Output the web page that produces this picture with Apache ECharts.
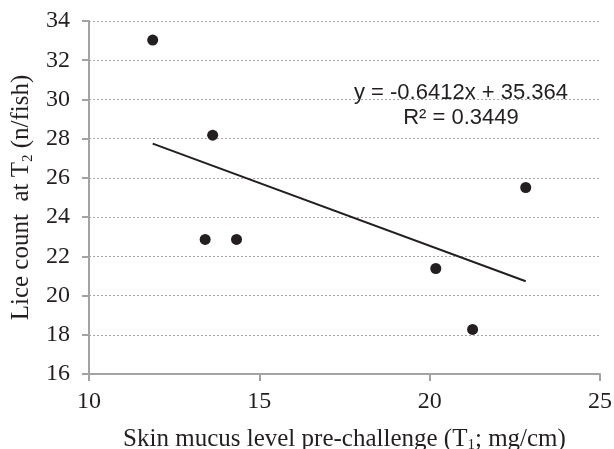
<!DOCTYPE html>
<html>
<head>
<meta charset="utf-8">
<script src="https://cdn.jsdelivr.net/npm/echarts@6/dist/echarts.min.js"></script>
<style>
  html, body { margin: 0; padding: 0; background: #fff; }
  #chart { width: 614px; height: 449px; }
</style>
</head>
<body>
<div id="chart"></div>
<script>
// skin mucus (x) vs lice count (y), one point per tank
let mucus = [11.87, 13.63, 13.41, 14.33, 20.18, 21.26, 22.82];
let lice = [33.03, 28.18, 22.86, 22.86, 21.38, 18.27, 25.51];

// linear trendline endpoints as drawn (x min .. x max)
let trendX = [11.87, 22.82];
let trendY = [27.75, 20.73];

let equation = ["y = -0.6412x + 35.364", "R² = 0.3449"];

let xTicks = { min: 10, max: 25, interval: 5 };
let yTicks = { min: 16, max: 34, interval: 2 };

let points = mucus.map((x, i) => [x, lice[i]]);
let trend = trendX.map((x, i) => [x, trendY[i]]);

const axisGrey = "#a3a3a3";
const ink = "#231f20";
const serif = "'Liberation Serif', 'DejaVu Serif', serif";

const myChart = echarts.init(document.getElementById("chart"), null, {
  width: 614,
  height: 449,
});

let nameRich = {
  t: { fontFamily: serif, fontSize: 25, color: ink },
  s: { fontFamily: serif, fontSize: 15, color: ink, padding: [13, 0, 0, 0] },
};

let option = {
  animation: false,
  grid: { left: 89, right: 14, top: 21, bottom: 75, outerBoundsMode: "none", containLabel: false },
  xAxis: {
    type: "value",
    min: xTicks.min,
    max: xTicks.max,
    interval: xTicks.interval,
    name: "{t|Skin mucus level pre-challenge (T}{s|1}{t|; mg/cm)}",
    nameLocation: "middle",
    nameGap: 51,
    nameTextStyle: { rich: nameRich },
    axisLine: { lineStyle: { color: axisGrey, width: 2 } },
    axisTick: { show: true, length: 7, lineStyle: { color: axisGrey, width: 2 } },
    axisLabel: { fontFamily: serif, fontSize: 24, color: ink, margin: 16 },
    splitLine: { show: false },
  },
  yAxis: {
    type: "value",
    min: yTicks.min,
    max: yTicks.max,
    interval: yTicks.interval,
    name: "{t|Lice count  at T}{s|2}{t| (n/fish)}",
    nameLocation: "middle",
    nameRotate: 90,
    nameGap: 50,
    nameTextStyle: { rich: nameRich },
    axisLine: { show: true, lineStyle: { color: axisGrey, width: 2 } },
    axisTick: { show: true, length: 7, lineStyle: { color: axisGrey, width: 2 } },
    axisLabel: { fontFamily: serif, fontSize: 24, color: ink, margin: 19 },
    splitLine: { show: true, lineStyle: { color: "#a6a6a6", type: [2, 2], width: 1 } },
  },
  series: [
    {
      type: "scatter",
      data: points,
      symbol: "circle",
      symbolSize: 11,
      itemStyle: { color: ink, opacity: 1 },
      z: 3,
    },
    {
      type: "line",
      data: trend,
      symbol: "none",
      lineStyle: { color: ink, width: 2 },
      z: 2,
    },
  ],
  graphic: [
    {
      type: "text",
      x: 461,
      y: 105,
      style: {
        text: equation.join("\n"),
        font: "22px 'Liberation Sans', Arial, sans-serif",
        fill: ink,
        textAlign: "center",
        textVerticalAlign: "middle",
        lineHeight: 25,
      },
    },
  ],
};

myChart.setOption(option);
</script>
</body>
</html>
